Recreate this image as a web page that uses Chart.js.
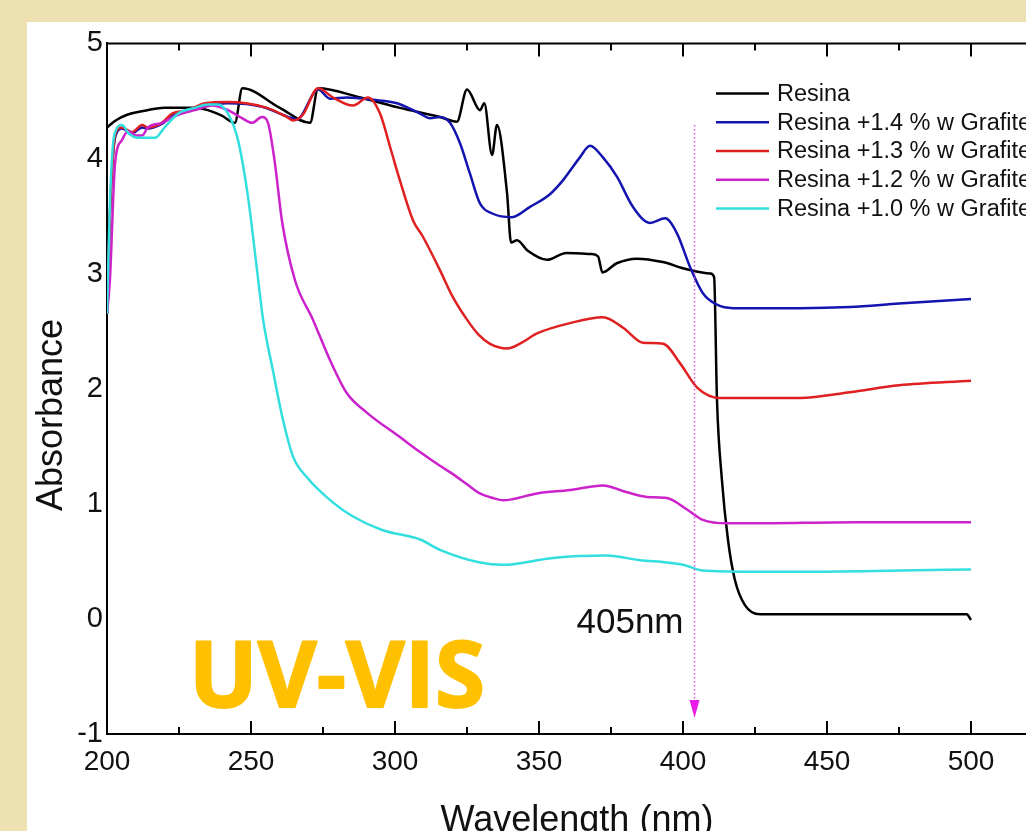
<!DOCTYPE html>
<html>
<head>
<meta charset="utf-8">
<title>UV-VIS</title>
<script src="https://cdn.jsdelivr.net/npm/chart.js@4.4.1/dist/chart.umd.min.js"></script>
<style>
  html, body { margin: 0; padding: 0; overflow: hidden; background: #ede0b1; }
  #panel { position: absolute; left: 27px; top: 22px; width: 1200px; height: 900px; background: #fff; }
  #uvChart { display: block; }
</style>
</head>
<body>
<div id="panel"><canvas id="uvChart" width="1160" height="880"></canvas></div>
<script>
// series names and colours
const seriesLabels = [
    'Resina',
    'Resina +1.4 % w Grafite',
    'Resina +1.3 % w Grafite',
    'Resina +1.2 % w Grafite',
    'Resina +1.0 % w Grafite'
];
const seriesColors = ['#000000', '#1414b0', '#e02020', '#cc22cc', '#33dede'];

// axis ticks
const xTicks = [200, 250, 300, 350, 400, 450, 500];
const xMinorTicks = [225, 275, 325, 375, 425, 475, 525];
const yTicks = [-1, 0, 1, 2, 3, 4, 5];

// 405 nm marker
const markerNm = 404;
const markerTop = 4.29;
const markerBottom = -0.86;
const markerLabel = '405nm';

// Resina
const resinaNm = [200, 203, 207, 212, 220, 230, 235, 240, 244.4, 247, 260, 270.5, 273.3, 288, 301.7,
    315.6, 321.5, 325, 329.5, 331, 333.7, 335.4, 338.9, 340.3, 342.4, 346, 352.8, 359.5, 368, 370.5,
    372, 377, 384, 393, 401, 409.5, 410.8, 411.8, 413.5, 415.6, 418, 421.5, 426.7, 440, 480, 498.5, 500];
const resinaAbs = [4.27, 4.33, 4.38, 4.41, 4.44, 4.44, 4.42, 4.37, 4.31, 4.61, 4.44, 4.31, 4.61, 4.53, 4.44,
    4.36, 4.32, 4.60, 4.42, 4.48, 4.03, 4.29, 3.70, 3.27, 3.29, 3.20, 3.12, 3.18, 3.17, 3.15,
    3.01, 3.09, 3.13, 3.10, 3.04, 3.00, 2.97, 1.90, 1.21, 0.69, 0.34, 0.12, 0.04, 0.04, 0.04, 0.04, -0.01];

// Resina +1.4 %
const g14Nm = [200, 201, 202, 203, 205.2, 208.7, 212.2, 214.2, 219, 222.6, 228.1, 234, 242, 253.8, 263,
    266, 273.3, 277.4, 283.3, 292.4, 300.7, 308.7, 312.2, 315.6, 319.1, 322.6, 326, 329.5, 334, 340.6,
    346.9, 353.8, 358.3, 364.2, 367.7, 372.2, 377.1, 382.6, 388.5, 393.8, 397.9, 402.4, 406.9, 411.8,
    417.4, 440.6, 458, 475, 500];
const g14Abs = [2.65, 3.5, 4.0, 4.2, 4.26, 4.22, 4.27, 4.26, 4.30, 4.37, 4.41, 4.46, 4.48, 4.45, 4.36,
    4.34, 4.60, 4.52, 4.53, 4.51, 4.48, 4.39, 4.35, 4.36, 4.31, 4.13, 3.87, 3.61, 3.52, 3.49,
    3.58, 3.69, 3.81, 4.01, 4.11, 4.01, 3.84, 3.58, 3.44, 3.48, 3.35, 3.06, 2.83, 2.73,
    2.70, 2.70, 2.71, 2.74, 2.78];

// Resina +1.3 %
const g13Nm = [200, 201, 202, 203, 205.2, 208.7, 212.2, 214.2, 219, 222.6, 228.1, 234, 242, 255.5, 262.5,
    264.6, 268, 273.3, 278.5, 285.4, 290.6, 294.8, 298.3, 301.7, 306.3, 309.7, 315.6, 320, 325, 329,
    333, 338.9, 344, 349.3, 360.8, 372.2, 379.2, 386.1, 393.1, 399, 404.9, 412.8, 423.3, 440.6, 458,
    475, 500];
const g13Abs = [2.65, 3.5, 4.0, 4.22, 4.27, 4.23, 4.29, 4.27, 4.31, 4.39, 4.42, 4.48, 4.49, 4.44, 4.36,
    4.33, 4.38, 4.61, 4.53, 4.46, 4.53, 4.39, 4.10, 3.81, 3.46, 3.32, 3.03, 2.80, 2.60, 2.47,
    2.39, 2.35, 2.40, 2.48, 2.57, 2.62, 2.53, 2.40, 2.39, 2.22, 2.01, 1.92, 1.92, 1.92, 1.97,
    2.03, 2.07];

// Resina +1.2 %
const g12Nm = [200, 201, 202.8, 205.2, 207.3, 210, 212.2, 214.2, 219.1, 224.7, 230.5, 236.5, 242, 246.9,
    250.3, 253.8, 255.9, 258.3, 260.8, 265.3, 271.5, 277.4, 283.3, 290.3, 301.7, 308.7, 315.6, 320,
    325, 329.5, 334, 337.5, 349.3, 360.8, 372.2, 380.6, 387.5, 394.4, 401.4, 406.9, 415.3, 423.3, 460, 500];
const g12Abs = [2.65, 2.94, 3.96, 4.16, 4.24, 4.20, 4.20, 4.27, 4.31, 4.38, 4.42, 4.46, 4.42, 4.35,
    4.31, 4.36, 4.31, 3.96, 3.45, 2.94, 2.60, 2.25, 1.96, 1.79, 1.58, 1.45, 1.33, 1.26,
    1.17, 1.09, 1.05, 1.03, 1.09, 1.12, 1.16, 1.10, 1.06, 1.05, 0.95, 0.86, 0.83, 0.83, 0.84, 0.84];

// Resina +1.0 %
const g10Nm = [200, 201, 202, 203, 205.2, 207.5, 210.8, 216.7, 220, 224.7, 230.5, 235, 238.5, 242, 245.5,
    249, 252.1, 254.2, 257.6, 261.1, 264.6, 269.4, 278.5, 285.4, 295.8, 308.7, 315.6, 329.5, 337.5,
    354.9, 373.6, 385, 394.4, 400, 406.9, 423.3, 440.6, 475.3, 500];
const g10Abs = [2.65, 3.6, 4.1, 4.24, 4.29, 4.22, 4.18, 4.18, 4.27, 4.39, 4.44, 4.47, 4.47, 4.39, 4.16,
    3.66, 3.03, 2.60, 2.16, 1.73, 1.41, 1.23, 1.01, 0.89, 0.77, 0.69, 0.60, 0.49, 0.47,
    0.53, 0.55, 0.51, 0.49, 0.47, 0.42, 0.41, 0.41, 0.42, 0.43];

const seriesNm = [resinaNm, g14Nm, g13Nm, g12Nm, g10Nm];
const seriesAbs = [resinaAbs, g14Abs, g13Abs, g12Abs, g10Abs];

const textFont = "'Liberation Sans', Arial, sans-serif";

function toPoints(nm, abs) {
    return nm.map((x, i) => ({ x, y: abs[i] }));
}

// frame, inward ticks, titles, legend, marker and the UV-VIS stamp
const decorPlugin = {
    id: 'decor',
    afterDraw(chart) {
        const { ctx, chartArea: a, scales: { x, y } } = chart;
        ctx.save();

        // top axis line
        ctx.strokeStyle = '#000';
        ctx.lineWidth = 2;
        ctx.beginPath();
        ctx.moveTo(a.left - 1, a.top);
        ctx.lineTo(a.right, a.top);
        ctx.stroke();

        // inward ticks, bottom and top
        const drawTick = (v, len) => {
            const px = x.getPixelForValue(v);
            ctx.beginPath();
            ctx.moveTo(px, a.bottom);
            ctx.lineTo(px, a.bottom - len);
            ctx.moveTo(px, a.top);
            ctx.lineTo(px, a.top + len);
            ctx.stroke();
        };
        xTicks.slice(1).forEach(v => drawTick(v, 13));
        xMinorTicks.forEach(v => drawTick(v, 7));

        // axis titles
        ctx.fillStyle = '#111';
        ctx.font = '36px ' + textFont;
        ctx.textAlign = 'center';
        ctx.textBaseline = 'alphabetic';
        ctx.fillText('Wavelength (nm)', 550, 809);
        ctx.save();
        ctx.translate(35, 393);
        ctx.rotate(-Math.PI / 2);
        ctx.fillText('Absorbance', 0, 0);
        ctx.restore();

        // legend
        ctx.font = '23.5px ' + textFont;
        ctx.textAlign = 'left';
        ctx.textBaseline = 'middle';
        seriesLabels.forEach((label, i) => {
            const ly = a.top + 50 + i * 28.75;
            ctx.strokeStyle = seriesColors[i];
            ctx.lineWidth = 2.5;
            ctx.beginPath();
            ctx.moveTo(a.left + 609, ly);
            ctx.lineTo(a.left + 662, ly);
            ctx.stroke();
            ctx.fillStyle = '#111';
            ctx.fillText(label, a.left + 670, ly + 1);
        });

        // 405 nm marker
        const mx = x.getPixelForValue(markerNm);
        const top = y.getPixelForValue(markerTop);
        const tip = y.getPixelForValue(markerBottom);
        ctx.strokeStyle = '#e050e0';
        ctx.lineWidth = 1.5;
        ctx.setLineDash([1.5, 2.5]);
        ctx.beginPath();
        ctx.moveTo(mx, top);
        ctx.lineTo(mx, tip - 16);
        ctx.stroke();
        ctx.setLineDash([]);
        ctx.fillStyle = '#e81ee8';
        ctx.beginPath();
        ctx.moveTo(mx - 5, tip - 18);
        ctx.lineTo(mx + 5, tip - 18);
        ctx.lineTo(mx, tip);
        ctx.closePath();
        ctx.fill();
        ctx.fillStyle = '#111';
        ctx.font = '35px ' + textFont;
        ctx.textAlign = 'right';
        ctx.textBaseline = 'alphabetic';
        ctx.fillText(markerLabel, mx - 11, y.getPixelForValue(0) + 14);

        // UV-VIS stamp
        ctx.font = "bold 100px 'Open Sans', sans-serif";
        const w = ctx.measureText('UV-VIS').width;
        ctx.font = "bold " + (100 * 296 / w).toFixed(1) + "px 'Open Sans', sans-serif";
        ctx.fillStyle = '#ffc000';
        ctx.strokeStyle = '#ffc000';
        ctx.lineWidth = 2;
        ctx.lineJoin = 'round';
        ctx.textAlign = 'left';
        const sx = a.left + 82, sy = y.getPixelForValue(-1) - 27;
        ctx.fillText('UV-VIS', sx, sy);
        ctx.strokeText('UV-VIS', sx, sy);

        ctx.restore();
    }
};

const ctx = document.getElementById('uvChart').getContext('2d');
const chart = new Chart(ctx, {
    type: 'line',
    data: {
        datasets: seriesLabels.map((label, i) => ({
            label,
            data: toPoints(seriesNm[i], seriesAbs[i]),
            borderColor: seriesColors[i],
            backgroundColor: seriesColors[i],
            order: seriesLabels.length - i
        }))
    },
    options: {
        responsive: false,
        animation: false,
        layout: { padding: { left: 0, top: 21, right: 72, bottom: 59.4 } },
        plugins: {
            legend: { display: false },
            tooltip: { enabled: false }
        },
        elements: {
            point: { radius: 0 },
            line: { borderWidth: 2.5, borderJoinStyle: 'round', cubicInterpolationMode: 'monotone' }
        },
        scales: {
            x: {
                type: 'linear',
                min: 200,
                max: 550,
                afterFit: s => { s.height = 108.6; },
                afterBuildTicks: s => { s.ticks = xTicks.map(v => ({ value: v })); },
                grid: { display: false, drawTicks: false },
                border: { display: true, color: '#000', width: 2 },
                ticks: { padding: 11, color: '#111', maxRotation: 0, font: { family: textFont, size: 28 } }
            },
            y: {
                type: 'linear',
                min: -1,
                max: 5,
                afterFit: s => { s.width = 80; },
                afterBuildTicks: s => { s.ticks = yTicks.map(v => ({ value: v })); },
                grid: { display: false, drawTicks: false },
                border: { display: true, color: '#000', width: 2 },
                ticks: { padding: 4, color: '#111', font: { family: textFont, size: 29 } }
            }
        }
    },
    plugins: [decorPlugin]
});
</script>
</body>
</html>
